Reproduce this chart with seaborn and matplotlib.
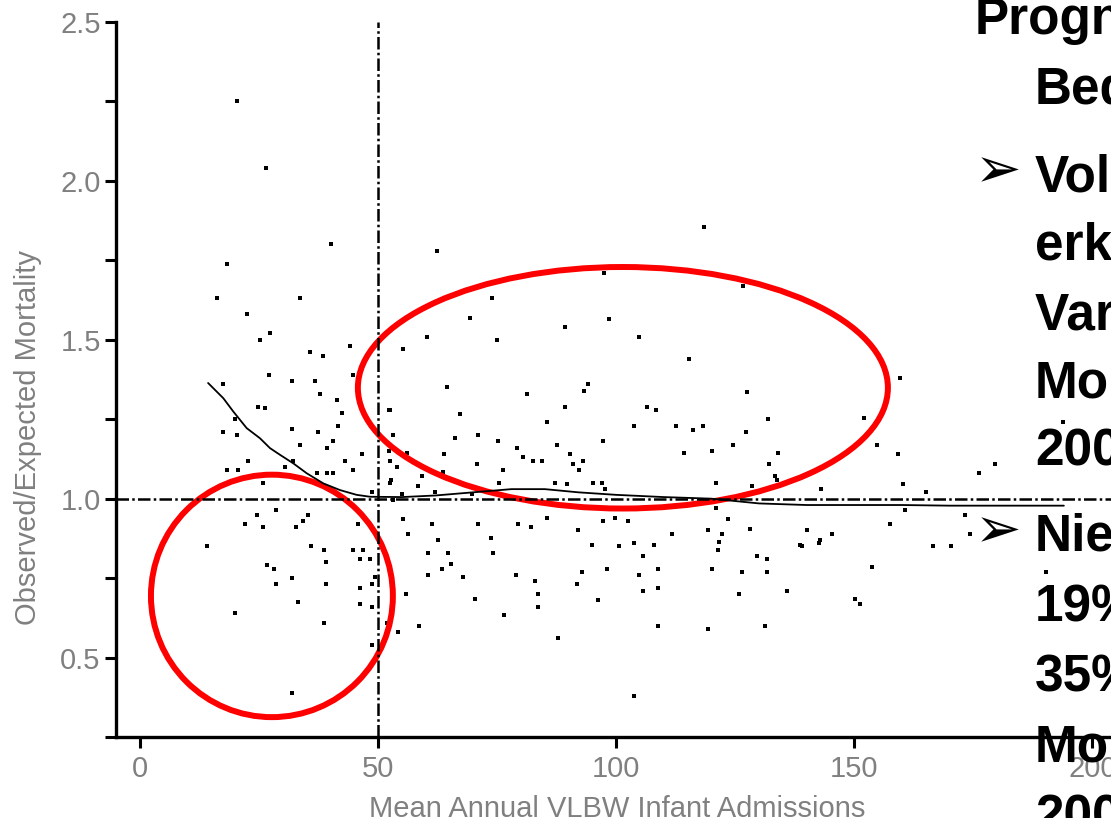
import numpy as np
import pandas as pd
import matplotlib
matplotlib.use("Agg")
import matplotlib.pyplot as plt
from matplotlib.patches import Ellipse
import seaborn as sns

# ------------------------
# Data
# ------------------------
admissions = [
    20.4, 26.5, 40.1, 18.3, 16.2, 33.6, 22.5, 27.3, 25.2, 44.1, 35.7, 38.4, 27.1, 44.7, 31.9, 36.8,
    17.4, 37.8, 41.4, 24.8, 26.3, 42.4, 52.5, 20.0, 41.6, 17.4, 31.9, 37.4, 20.4, 40.5, 33.6, 39.3,
    46.6, 22.7, 43.1, 30.5, 32.1, 44.7, 18.3, 20.6, 37.2, 39.3, 40.5, 25.8, 48.7, 52.5, 54.0, 52.5,
    24.6, 28.6, 35.3, 22.1, 25.8, 32.8, 34.2, 14.1, 35.9, 38.6, 39.1, 26.7, 28.1, 31.9, 28.6, 39.1,
    33.2, 20.0, 38.6, 31.9, 45.8, 44.7, 46.8, 46.2, 48.3, 49.4, 48.7, 46.2, 46.2, 48.7, 48.7, 51.9,
    54.2,
    62.4, 97.4, 126.6, 73.9, 69.3, 98.5, 89.3, 60.3, 104.8, 75.0, 55.2, 115.3, 64.5, 81.3, 93.2, 94.1,
    127.5, 52.3, 67.2, 89.3, 106.5, 108.4, 131.9, 85.5, 103.7, 112.6, 116.1, 118.2, 127.3, 53.1, 66.2,
    71.0, 75.2, 87.6, 97.2, 124.5, 52.3, 56.1, 63.8, 79.2, 114.2, 120.1, 134.0, 70.8, 80.4, 82.5,
    84.4, 90.3, 90.9, 93.0, 92.2, 132.1, 76.2, 59.2, 63.6, 52.7, 75.4, 58.4, 95.1, 97.0, 121.0,
    133.8, 128.5, 89.7, 87.2, 55.0, 62.0, 69.7, 97.7, 53.1,
    55.2, 61.3, 71.0, 85.5, 79.4, 82.1, 97.2, 99.8, 102.5, 123.5, 121.0, 56.3, 62.6, 73.7, 92.0,
    111.7, 119.3, 122.2, 128.1, 121.6, 121.4, 94.9, 100.6, 103.7, 107.9, 60.5, 64.7, 74.1, 105.6,
    129.6, 131.7, 65.3, 63.4, 60.5, 67.8, 79.0, 92.8, 98.1, 104.8, 108.8, 120.1, 126.4, 131.7, 83.0,
    91.8, 105.6, 108.8, 125.8, 135.9, 55.9, 70.4, 83.6, 96.2, 83.6, 76.4, 58.6, 108.8, 119.3, 131.3,
    87.8, 103.7, 138.6, 118.4,
    159.6, 152.0, 154.8, 159.2, 193.8, 179.6, 176.2, 160.2, 143.0, 165.1, 160.7, 173.3, 157.5, 140.1,
    145.3, 139.0, 142.6, 166.5, 170.3, 174.3, 153.7, 190.3, 150.2, 151.2, 133.4, 142.8,
]
oe_ratio = [
    2.25, 2.04, 1.80, 1.74, 1.63, 1.63, 1.58, 1.52, 1.50, 1.48, 1.46, 1.45, 1.39, 1.39, 1.37, 1.37,
    1.36, 1.33, 1.31, 1.29, 1.285, 1.27, 1.28, 1.25, 1.23, 1.21, 1.22, 1.21, 1.20, 1.18, 1.17, 1.16,
    1.14, 1.12, 1.12, 1.10, 1.12, 1.09, 1.09, 1.09, 1.08, 1.08, 1.08, 1.05, 1.02, 1.12, 1.10, 1.05,
    0.95, 0.965, 0.95, 0.92, 0.91, 0.91, 0.93, 0.85, 0.85, 0.84, 0.80, 0.79, 0.78, 0.75, 0.73, 0.73,
    0.675, 0.64, 0.61, 0.39, 0.92, 0.84, 0.84, 0.81, 0.81, 0.755, 0.73, 0.72, 0.67, 0.66, 0.54, 0.61,
    0.58,
    1.78, 1.71, 1.67, 1.63, 1.57, 1.565, 1.54, 1.51, 1.51, 1.50, 1.47, 1.44, 1.35, 1.33, 1.34, 1.36,
    1.335, 1.28, 1.265, 1.29, 1.29, 1.28, 1.25, 1.24, 1.23, 1.23, 1.215, 1.23, 1.21, 1.20, 1.19,
    1.20, 1.18, 1.17, 1.18, 1.17, 1.15, 1.145, 1.14, 1.16, 1.145, 1.15, 1.145, 1.11, 1.13, 1.12,
    1.12, 1.14, 1.11, 1.12, 1.09, 1.11, 1.09, 1.07, 1.085, 1.06, 1.05, 1.04, 1.05, 1.05, 1.05,
    1.06, 1.04, 1.045, 1.05, 1.015, 1.02, 1.015, 1.03, 0.995,
    0.935, 0.92, 0.92, 0.94, 0.92, 0.91, 0.93, 0.94, 0.93, 0.935, 0.97, 0.89, 0.87, 0.875, 0.90,
    0.89, 0.90, 0.89, 0.905, 0.865, 0.84, 0.855, 0.85, 0.86, 0.855, 0.83, 0.83, 0.83, 0.82,
    0.82, 0.81, 0.795, 0.78, 0.76, 0.755, 0.76, 0.77, 0.78, 0.76, 0.78, 0.78, 0.77, 0.77, 0.74,
    0.73, 0.71, 0.72, 0.70, 0.71, 0.70, 0.685, 0.70, 0.68, 0.66, 0.635, 0.60, 0.60, 0.59, 0.60,
    0.56, 0.38, 0.855, 1.855,
    1.38, 1.255, 1.17, 1.14, 1.24, 1.11, 1.08, 1.045, 1.03, 1.02, 0.965, 0.95, 0.92, 0.90,
    0.89, 0.85, 0.86, 0.85, 0.85, 0.89, 0.785, 0.77, 0.685, 0.67, 1.07, 0.87,
]

# smoothed trend line
trend_x = [14.3, 17.5, 19.6, 22.4, 25.2, 27.3, 29.4, 32.2, 35.0, 38.5, 42.0, 45.5, 48.3,
           55, 62, 70, 78, 85, 92, 100, 110, 120, 130, 140, 150, 160, 170, 180, 194]
trend_y = [1.364, 1.316, 1.274, 1.222, 1.190, 1.159, 1.138, 1.111, 1.080, 1.048, 1.027, 1.012, 1.006,
           1.005, 1.010, 1.020, 1.030, 1.030, 1.020, 1.012, 1.005, 1.000, 0.985, 0.980, 0.980, 0.980,
           0.978, 0.978, 0.978]

x_ticks = [0, 50, 100, 150, 200]
y_ticks = [0.5, 1.0, 1.5, 2.0, 2.5]
y_minor = [0.25, 0.75, 1.25, 1.75, 2.25]

# highlighted regions: (center x, center y, width, height)
circles = [(27.7, 0.694, 50.8, 0.763), (101.4, 1.349, 111.3, 0.760)]

# slide text overlapping the chart: (text, bullet?, indented?)
slide_lines = [
    ("Prognostische", False, False),
    ("Bedeutung", False, True),
    ("Volumen-Outcome", True, True),
    ("erklärt", False, True),
    ("Varianz der", False, True),
    ("Mortalität", False, True),
    ("2006", False, True),
    ("Niedrig-Volumen", True, True),
    ("19%", False, True),
    ("35%", False, True),
    ("Mortalität", False, True),
    ("2006", False, True),
]
slide_baselines = [34, 104, 191, 259, 329, 397, 466, 551, 621, 691, 761, 831]

df = pd.DataFrame({"admissions": admissions, "oe": oe_ratio})
trend = pd.DataFrame({"x": trend_x, "y": trend_y})

# ------------------------
# Plot
# ------------------------
sns.set_theme(style="white")
narrow = ["Liberation Sans Narrow", "Liberation Sans", "DejaVu Sans"]
grey = "#808080"

fig = plt.figure(figsize=(11.11, 8.18), dpi=100)
ax = fig.add_axes([116 / 1111, 81 / 818, 995 / 1111, 715 / 818])

sns.scatterplot(data=df, x="admissions", y="oe", ax=ax, marker="s", s=12,
                color="black", linewidth=0, legend=False)
sns.lineplot(data=trend, x="x", y="y", ax=ax, color="black", linewidth=1.3)

ax.axhline(1.0, color="black", linewidth=1.8, dashes=(5, 1.3, 1, 1.3))
ax.axvline(50, color="black", linewidth=1.8, dashes=(5, 1.3, 1, 1.3))

for cx, cy, w, h in circles:
    ax.add_patch(Ellipse((cx, cy), w, h, fill=False, edgecolor="#ff0000", linewidth=4.3))

ax.set_xlim(-5.04, 203.9)
ax.set_ylim(0.25, 2.5)
ax.set_xticks(x_ticks)
ax.set_xticklabels([str(t) for t in x_ticks])
ax.set_yticks(y_ticks)
ax.set_yticklabels([f"{t:.1f}" for t in y_ticks])
ax.set_yticks(y_minor, minor=True)

for side in ["top", "right"]:
    ax.spines[side].set_visible(False)
for side in ["left", "bottom"]:
    ax.spines[side].set_color("black")
    ax.spines[side].set_linewidth(2.4)

ax.tick_params(axis="both", which="both", direction="out", length=8, width=2.2,
               color="black", labelcolor=grey, labelsize=21, left=True, bottom=True)
ax.tick_params(axis="x", pad=5)
ax.tick_params(axis="y", pad=3)
for lab in ax.get_xticklabels() + ax.get_yticklabels():
    lab.set_family(narrow)

ax.set_xlabel("Mean Annual VLBW Infant Admissions", color=grey, fontsize=21, family=narrow,
              va="top")
ax.xaxis.set_label_coords(0.5035, -0.081)
ax.set_ylabel("Observed/Expected Mortality", color=grey, fontsize=21, family=narrow)
ax.yaxis.set_label_coords(-0.0744, 0.419)

# overlapping slide text on the right
for (txt, bullet, indent), base in zip(slide_lines, slide_baselines):
    y = 1 - base / 818
    x = 1035 if indent else 975
    fig.text(x / 1111, y, txt, fontsize=37, fontweight="bold", color="black",
             family=["Liberation Sans", "DejaVu Sans"], va="baseline", ha="left")
    if bullet:
        fig.text(975 / 1111, 1 - (base - 4) / 818, "\u27a2", fontsize=40, color="black",
                 family=["DejaVu Sans"], va="baseline", ha="left")

fig.savefig("out.png", dpi=100)
